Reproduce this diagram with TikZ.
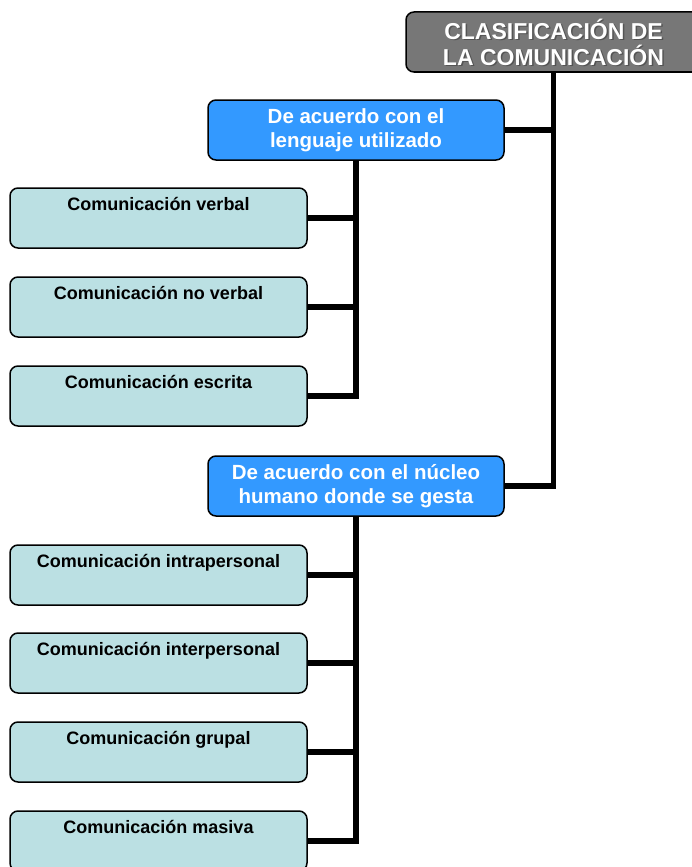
\documentclass[tikz,border=0pt]{standalone}
\usepackage{fontspec}
\setmainfont{Liberation Sans}
\usetikzlibrary{positioning,calc,backgrounds}
\definecolor{headgray}{RGB}{119,119,119}
\definecolor{catblue}{RGB}{51,153,255}
\definecolor{itemcyan}{RGB}{187,224,227}
\tikzset{
  boxbase/.style={draw=black, line width=1.5pt, rounded corners=8pt,
    minimum width=296pt, minimum height=60pt, inner sep=0pt},
  headbox/.style={boxbase, fill=headgray, minimum width=295pt},
  catbox/.style={boxbase, fill=catblue, text=white, align=center,
    font=\bfseries\fontsize{20.5}{24}\selectfont},
  itembox/.style={boxbase, fill=itemcyan, minimum width=297pt},
  itemtext/.style={font=\bfseries\fontsize{18}{21}\selectfont, anchor=base, inner sep=0pt},
  headtext/.style={align=center, font=\bfseries\fontsize{23}{26}\selectfont, inner sep=0pt},
  conn/.style={line width=5.5pt, line join=miter, line cap=rect}
}
\begin{document}
\begin{tikzpicture}[x=1pt,y=-1pt]
\useasboundingbox (0,0) rectangle (692,867);
\clip (0,0) rectangle (692,867);

% main heading
\node[headbox] (top) at (553.5,42) {};
\node[headtext, text=black!70, opacity=0.8] (topsh) at ([xshift=1.5pt,yshift=-1.5pt]top.center)
  {CLASIFICACIÓN DE\\LA COMUNICACIÓN};
\node[headtext, text=white] (toptx) at (top.center) {CLASIFICACIÓN DE\\LA COMUNICACIÓN};

% category boxes
\node[catbox] (b1) at (356,130) {De acuerdo con el\\lenguaje utilizado};
\node[catbox] (b2) at (356,486) {De acuerdo con el núcleo\\humano donde se gesta};

% items of the first category
\node[itembox] (c1) at (158.5,218) {};
\node[itembox] (c2) at (158.5,307) {};
\node[itembox] (c3) at (158.5,396) {};
\node[itemtext] (c1t) at ([yshift=-23pt]c1.north) {Comunicación verbal};
\node[itemtext] (c2t) at ([yshift=-23pt]c2.north) {Comunicación no verbal};
\node[itemtext] (c3t) at ([yshift=-23pt]c3.north) {Comunicación escrita};

% items of the second category
\node[itembox] (d1) at (158.5,575) {};
\node[itembox] (d2) at (158.5,663) {};
\node[itembox] (d3) at (158.5,752) {};
\node[itembox] (d4) at (158.5,841) {};
\node[itemtext] (d1t) at ([yshift=-23pt]d1.north) {Comunicación intrapersonal};
\node[itemtext] (d2t) at ([yshift=-23pt]d2.north) {Comunicación interpersonal};
\node[itemtext] (d3t) at ([yshift=-23pt]d3.north) {Comunicación grupal};
\node[itemtext] (d4t) at ([yshift=-23pt]d4.north) {Comunicación masiva};

% connectors, kept behind the boxes
\begin{pgfonlayer}{background}
\draw[conn] (top.south) |- (b1.east);
\draw[conn] (top.south) |- (b2.east);
\draw[conn] (b1.south) |- (c1.east);
\draw[conn] (b1.south) |- (c2.east);
\draw[conn] (b1.south) |- (c3.east);
\draw[conn] (b2.south) |- (d1.east);
\draw[conn] (b2.south) |- (d2.east);
\draw[conn] (b2.south) |- (d3.east);
\draw[conn] (b2.south) |- (d4.east);
\end{pgfonlayer}
\end{tikzpicture}
\end{document}
